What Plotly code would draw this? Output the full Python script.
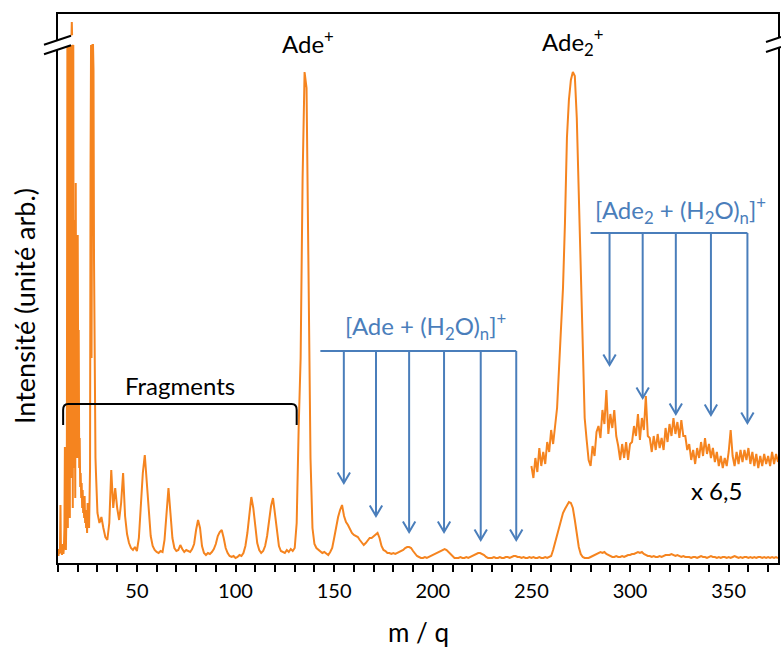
import numpy as np
import plotly.graph_objects as go

# ---------------- data (intensity in arbitrary units) ----------------
# low-mass region sampled every 0.25 (m/q 10.00 ... 29.75); values above the axis break are clipped at 513
mz_low = np.arange(10.0, 30.0, 0.25)
int_low = [6, 2, 9, 4, 10, 53, 5, 12, 3, 8, 14, 4,
           10, 30, 111, 20, 8, 40, 120, 513, 30, 513, 60, 513,
           40, 513, 80, 513, 536, 513, 50, 513, 90, 338, 210, 60,
           375, 140, 300, 100, 323, 160, 228, 90, 120, 71, 85, 60,
           75, 50, 68, 45, 55, 40, 62, 35, 48, 30, 40, 25,
           55, 35, 45, 30, 60, 90, 391, 513, 200, 513, 513, 513,
           488, 300, 180, 130, 100, 85, 60, 50]

# rest of the spectrum, every 1 (m/q 30 ... 375)
mz_main = np.arange(30, 376, 1)
int_main = [
    45, 35, 41, 30, 21, 18, 35, 88, 50, 70,        # 30
    50, 38, 55, 85, 42, 24, 15, 10, 8, 11,         # 40
    7, 20, 55, 85, 103, 75, 42, 22, 12, 8,         # 50
    6, 5, 7, 6, 18, 45, 70, 45, 20, 10,            # 60
    7, 8, 13, 9, 6, 8, 7, 6, 9, 14,                # 70
    28, 38, 30, 12, 5, 3, 5, 4, 6, 9,              # 80
    14, 22, 26, 28, 20, 10, 5, 2, 1, 2,            # 90
    0, 1, 3, 2, 5, 12, 25, 45, 61, 50,             # 100
    30, 15, 8, 5, 7, 12, 22, 40, 52, 60,           # 110
    45, 25, 12, 7, 6, 5, 8, 6, 9, 7,               # 120
    10, 35, 130, 200, 380, 486, 470, 290, 100, 30, # 130
    14, 10, 8, 6, 5, 6, 4, 3, 6, 10,               # 140
    20, 32, 41, 48, 53, 42, 36, 33, 28, 25,        # 150
    23, 22, 21, 18, 15, 13, 15, 17, 20, 20,        # 160
    22, 24, 25, 20, 12, 8, 7, 5, 5, 4,             # 170
    5, 4, 5, 6, 7, 8, 10, 11, 11, 10,              # 180
    7, 4, 2, 1, 0, 0, 1, 0, 1, 2,                  # 190
    3, 4, 5, 6, 7, 8, 9, 8, 6, 3,                  # 200
    1, 0, 0, 0, 1, 0, 0, 1, 0, 1,                  # 210
    2, 3, 4, 5, 5, 4, 3, 1, 0, 0,                  # 220
    0, 1, 0, 0, 1, 0, 0, 1, 1, 0,                  # 230
    1, 2, 2, 1, 1, 0, 1, 0, 0, 1,                  # 240
    0, 1, 0, 0, 1, 0, 0, 1, 0, 1,                  # 250
    2, 8, 15, 22, 30, 38, 45, 49, 53, 56,          # 260
    55, 50, 38, 24, 11, 4, 1, 0, 0, 0,             # 270
    1, 2, 3, 4, 5, 6, 5, 6, 4, 3,                  # 280
    2, 1, 1, 2, 1, 1, 2, 1, 2, 3,                  # 290
    3, 4, 4, 5, 6, 5, 6, 4, 3, 2,                  # 300
    2, 1, 2, 1, 1, 2, 1, 2, 3, 3,                  # 310
    3, 4, 3, 2, 3, 2, 1, 2, 1, 1,                  # 320
    1, 0, 1, 1, 0, 1, 2, 1, 1, 0,                  # 330
    1, 2, 1, 1, 0, 1, 0, 1, 1, 0,                  # 340
    1, 0, 1, 2, 1, 0, 1, 0, 1, 1,                  # 350
    0, 1, 0, 1, 0, 1, 1, 0, 1, 0,                  # 360
    1, 0, 1, 0, 1, 0,                              # 370
]

# magnified (x 6,5, shifted up) portion, m/q 250 ... 375
mz_zoom = np.arange(250, 376, 1)
int_zoom = [
    92, 80, 100, 86, 110, 92, 106, 94, 116, 106,
    128, 114, 132, 150, 190, 232, 270, 335, 420, 458,
    478, 486, 482, 440, 360, 285, 210, 140, 118, 98,
    92, 112, 102, 126, 132, 120, 148, 134, 168, 124,
    144, 130, 148, 122, 112, 98, 114, 100, 116, 98,
    114, 116, 132, 122, 144, 118, 140, 128, 162, 122,
    120, 106, 122, 108, 124, 110, 120, 108, 130, 116,
    134, 122, 140, 124, 136, 120, 138, 122, 122, 108,
    114, 98, 108, 94, 110, 100, 116, 102, 120, 104,
    114, 100, 110, 96, 106, 92, 102, 90, 100, 92,
    106, 128, 102, 92, 106, 94, 108, 96, 108, 98,
    110, 94, 106, 92, 104, 90, 102, 92, 104, 94,
    102, 92, 106, 94, 104, 96,
]

tick_vals = [50, 100, 150, 200, 250, 300, 350]
tick_text = ["50", "100", "150", "200", "250", "300", "350"]
minor_tick_vals = list(range(10, 380, 10))

# water-cluster markers: positions (m/q), arrow tips, bracket level and left end
ade_h2o_mz = [154.9, 171.2, 188.0, 205.7, 224.3, 242.3]
ade_h2o_tip = [75, 42, 26, 26, 18, 18]
ade_h2o_level, ade_h2o_start = 207, 143
ade2_h2o_mz = [289.6, 306.4, 323.2, 341.0, 359.5]
ade2_h2o_tip = [193, 160, 144, 143, 135]
ade2_h2o_level, ade2_h2o_start = 325, 280

ORANGE = "#f5841f"
BLUE = "#4a7ebb"
FONT = "Lato"

fig = go.Figure()
fig.add_trace(go.Scatter(x=np.concatenate([mz_low, mz_main]), y=int_low + int_main,
                         mode="lines", line=dict(color=ORANGE, width=2),
                         hoverinfo="skip", showlegend=False))
fig.add_trace(go.Scatter(x=mz_zoom, y=int_zoom, mode="lines",
                         line=dict(color=ORANGE, width=2),
                         hoverinfo="skip", showlegend=False))

W, H = 781, 648
PL, PR, PT, PB = 58, 778, 14, 563          # plot-area edges in window pixels
L, R, T, B = PL, W - PR, PT, H - PB
X_RANGE, Y_RANGE = [10, 375], [-5, 544]
UX = (PR - PL) / (X_RANGE[1] - X_RANGE[0])   # pixels per m/q unit
UY = (PB - PT) / (Y_RANGE[1] - Y_RANGE[0])   # pixels per intensity unit


def px(x):
    return (x - PL) / (PR - PL)


def py(y):
    return (PB - y) / (PB - PT)


shapes = []
annotations = []


def bracket(mzs, tips, level, start):
    blue_line = dict(color=BLUE, width=2)
    shapes.append(dict(type="line", xref="x", yref="y", x0=start, x1=mzs[-1],
                       y0=level, y1=level, line=blue_line))
    hw, hh = 6.2 / UX, 10.5 / UY    # arrow-head half width / height (in data units)
    for m, t in zip(mzs, tips):
        shapes.append(dict(type="line", xref="x", yref="y", x0=m, x1=m,
                           y0=level, y1=t + 0.5, line=blue_line))
        shapes.append(dict(type="path", xref="x", yref="y",
                           path=f"M {m - hw},{t + hh} L {m},{t} L {m + hw},{t + hh}",
                           line=blue_line))


bracket(ade_h2o_mz, ade_h2o_tip, ade_h2o_level, ade_h2o_start)
bracket(ade2_h2o_mz, ade2_h2o_tip, ade2_h2o_level, ade2_h2o_start)

# Fragments bracket
shapes.append(dict(type="path", xref="x", yref="y",
                   path="M 12.6,133 L 12.6,148 Q 12.6,154 15.1,154 L 128.5,154 Q 131,154 131,148 L 131,133",
                   line=dict(color="black", width=2)))

# axis-break marks (left and right)
shapes.append(dict(type="path", xref="paper", yref="paper",
                   path=f"M {px(44)},{py(44.7)} L {px(77)},{py(33.7)} L {px(77)},{py(43.2)} L {px(44)},{py(54.2)} Z",
                   fillcolor="white", line=dict(width=0)))
shapes.append(dict(type="line", xref="paper", yref="paper",
                   x0=px(44), y0=py(44.7), x1=px(71), y1=py(35.7), line=dict(color="black", width=2)))
shapes.append(dict(type="line", xref="paper", yref="paper",
                   x0=px(44), y0=py(54.2), x1=px(71), y1=py(45.2), line=dict(color="black", width=2)))
shapes.append(dict(type="path", xref="paper", yref="paper",
                   path=f"M {px(766)},{py(42)} L {px(781)},{py(37)} L {px(781)},{py(47)} L {px(766)},{py(52)} Z",
                   fillcolor="white", line=dict(width=0)))
shapes.append(dict(type="line", xref="paper", yref="paper",
                   x0=px(766), y0=py(42), x1=px(781), y1=py(37), line=dict(color="black", width=2)))
shapes.append(dict(type="line", xref="paper", yref="paper",
                   x0=px(766), y0=py(52), x1=px(781), y1=py(47), line=dict(color="black", width=2)))

txt = dict(family=FONT, size=24, color="black")
blue_txt = dict(family=FONT, size=24, color=BLUE)
C = dict(showarrow=False, xanchor="center", yanchor="middle")
annotations += [
    dict(x=136.6, y=516, xref="x", yref="y", text="Ade<sup>+</sup>", font=txt, **C),
    dict(x=271.3, y=516, xref="x", yref="y", text="Ade<sub>2</sub><sup>+</sup>", font=txt, **C),
    dict(x=72.0, y=173, xref="x", yref="y", text="Fragments", font=txt, **C),
    dict(x=344.0, y=68, xref="x", yref="y", text="x 6,5", font=txt, **C),
    dict(x=196.1, y=232, xref="x", yref="y",
         text="[Ade + (H<sub>2</sub>O)<sub>n</sub>]<sup>+</sup>", font=blue_txt, **C),
    dict(x=325.7, y=348, xref="x", yref="y",
         text="[Ade<sub>2</sub> + (H<sub>2</sub>O)<sub>n</sub>]<sup>+</sup>", font=blue_txt, **C),
    dict(x=0.5, y=py(632), xref="paper", yref="paper", text="m / q",
         font=dict(family=FONT, size=26, color="black"), **C),
    dict(x=px(24), y=py(306), xref="paper", yref="paper", text="Intensité (unité arb.)",
         textangle=-90, font=dict(family=FONT, size=27, color="black"), **C),
]

fig.update_layout(
    width=W, height=H,
    margin=dict(l=L, r=R, t=T, b=B, autoexpand=False),
    paper_bgcolor="white", plot_bgcolor="white",
    shapes=shapes, annotations=annotations,
    xaxis=dict(range=X_RANGE, tickmode="array", tickvals=tick_vals, ticktext=tick_text,
               ticks="outside", ticklen=7, tickwidth=2, tickcolor="black",
               minor=dict(tickmode="array", tickvals=minor_tick_vals, ticks="outside",
                          ticklen=7, tickwidth=2, tickcolor="black", showgrid=False),
               showline=True, linecolor="black", linewidth=2, mirror=True,
               showgrid=False, zeroline=False, ticklabelstandoff=2,
               tickfont=dict(family=FONT, size=20, color="black")),
    yaxis=dict(range=Y_RANGE, showticklabels=False, ticks="",
               showline=True, linecolor="black", linewidth=2, mirror=True,
               showgrid=False, zeroline=False),
)

# remove the default 8px page margin so the figure fills the 781x648 window exactly
fig.write_html("out.html", config={"displayModeBar": False},
               post_script="document.body.style.margin='0';document.body.style.overflow='hidden';")
